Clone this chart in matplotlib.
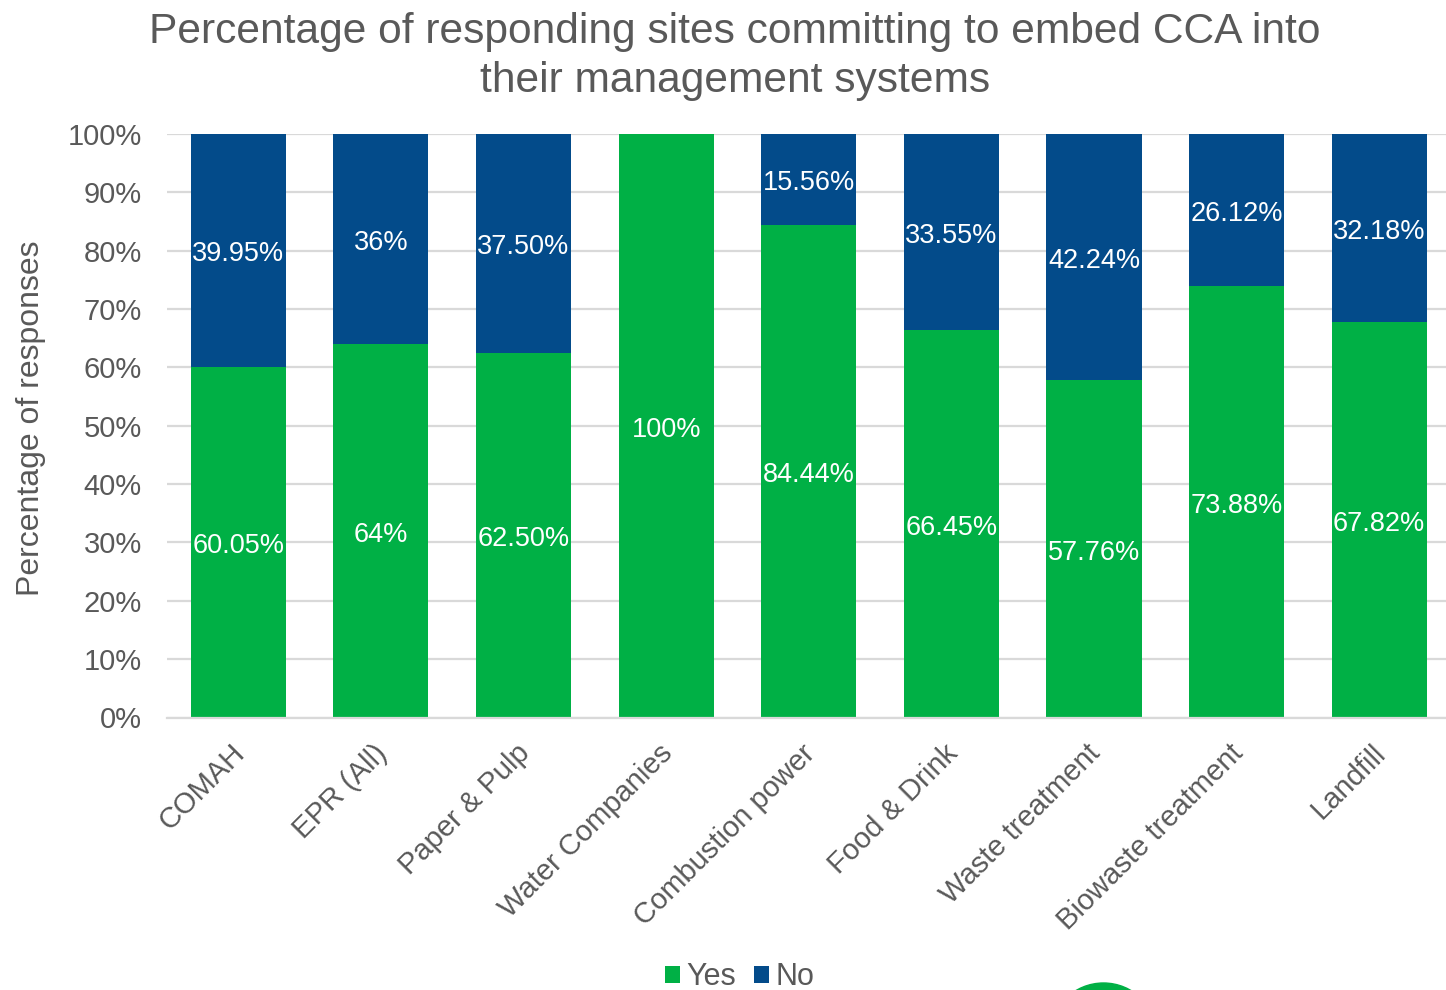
import matplotlib
matplotlib.use("Agg")
import matplotlib.pyplot as plt
from matplotlib.patches import Circle
from matplotlib.transforms import IdentityTransform, ScaledTranslation

plt.rcParams['font.family'] = ['Liberation Sans', 'DejaVu Sans']

categories = ["COMAH", "EPR (All)", "Paper & Pulp", "Water Companies", "Combustion power",
              "Food & Drink", "Waste treatment", "Biowaste treatment", "Landfill"]
yes_values = [60.05, 64, 62.50, 100, 84.44, 66.45, 57.76, 73.88, 67.82]
no_values = [39.95, 36, 37.50, 0, 15.56, 33.55, 42.24, 26.12, 32.18]
yes_labels = ["60.05%", "64%", "62.50%", "100%", "84.44%", "66.45%", "57.76%", "73.88%", "67.82%"]
no_labels = ["39.95%", "36%", "37.50%", "", "15.56%", "33.55%", "42.24%", "26.12%", "32.18%"]
y_ticks = list(range(0, 101, 10))

GREEN = "#00B045"
BLUE = "#034B8A"
GREY = "#595959"
W, H = 1446, 990

fig = plt.figure(figsize=(W / 100, H / 100), dpi=100)
# The plot area runs slightly past the right edge of the canvas
ax = fig.add_axes([167 / W, 1 - 717.5 / H, 1283.5 / W, (717.5 - 134) / H])

x = list(range(len(categories)))
ax.bar(x, yes_values, width=0.667, color=GREEN, label="Yes", zorder=3)
ax.bar(x, no_values, width=0.667, bottom=yes_values, color=BLUE, label="No", zorder=3)

for i, (y, n) in enumerate(zip(yes_values, no_values)):
    ax.annotate(yes_labels[i], (i, y / 2), xytext=(0, -2.8), textcoords="offset points",
                color="white", fontsize=19.5, ha="center", va="center", zorder=4)
    if n > 0:
        ax.annotate(no_labels[i], (i, y + n / 2), xytext=(0, -2.8), textcoords="offset points",
                    color="white", fontsize=19.5, ha="center", va="center", zorder=4)

ax.set_xlim(-0.5, 8.5)
ax.set_ylim(0, 100)
ax.set_yticks(y_ticks)
ax.set_yticklabels([f"{t}%" for t in y_ticks], fontsize=21, color=GREY)
ax.set_xticks(x)
ax.set_xticklabels(categories, fontsize=21, color=GREY, rotation=45, ha="right", rotation_mode="anchor")
ax.tick_params(axis="both", length=0)
ax.tick_params(axis="y", pad=18)
ax.tick_params(axis="x", pad=15.5)
shift = ScaledTranslation(-8 / 100, 0, fig.dpi_scale_trans)
for lab in ax.get_xticklabels():
    lab.set_transform(lab.get_transform() + shift)
ax.yaxis.grid(True, color="#D9D9D9", linewidth=1.6, zorder=0)
for side in ("top", "right", "left"):
    ax.spines[side].set_visible(False)
ax.spines["bottom"].set_color("#D9D9D9")
ax.spines["bottom"].set_linewidth(1.6)
ax.spines["bottom"].set_zorder(5)

fig.text(735 / W, 1 - 56.5 / H, "Percentage of responding sites committing to embed CCA into\ntheir management systems",
         fontsize=30.65, color=GREY, ha="center", va="center", linespacing=1.27)
fig.text(31 / W, 1 - 418 / H, "Percentage of responses", fontsize=23, color=GREY,
         rotation=90, ha="center", va="center")

ax.legend(loc="center", bbox_to_anchor=(739.5 / W, 1 - 977 / H), bbox_transform=fig.transFigure,
          ncol=2, frameon=False, fontsize=22, labelcolor=GREY, handlelength=0.49, handleheight=0.49,
          handletextpad=0.22, columnspacing=0.58, borderpad=0, borderaxespad=0)

# Green emblem cut off by the lower edge, placed in pixel coordinates
fig.add_artist(Circle((1103.5, H - 1037), 54, color=GREEN, transform=IdentityTransform()))

fig.savefig("out.png", dpi=100)
